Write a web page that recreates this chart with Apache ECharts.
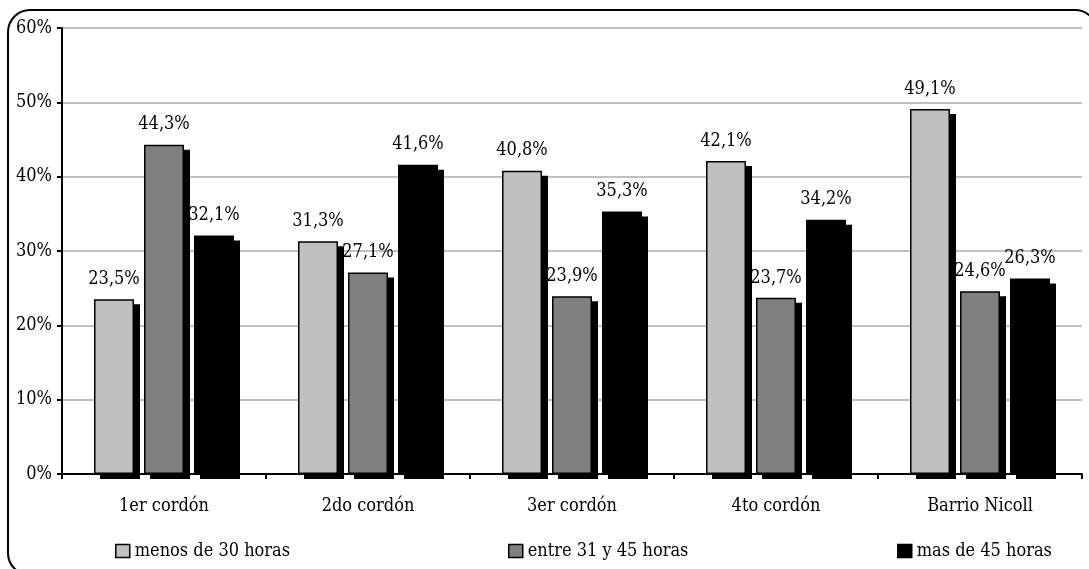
<!DOCTYPE html>
<html>
<head>
<meta charset="utf-8">
<script src="https://cdn.jsdelivr.net/npm/echarts@6/dist/echarts.min.js"></script>
<style>
html,body{margin:0;padding:0;background:#fff;}
#chart{width:1089px;height:569px;}
</style>
</head>
<body>
<div id="chart"></div>
<script>
const categories = ['1er cordón', '2do cordón', '3er cordón', '4to cordón', 'Barrio Nicoll'];
const seriesNames = ['menos de 30 horas', 'entre 31 y 45 horas', 'mas de 45 horas'];
const menos30 = [23.5, 31.3, 40.8, 42.1, 49.1];
const entre31y45 = [44.3, 27.1, 23.9, 23.7, 24.6];
const mas45 = [32.1, 41.6, 35.3, 34.2, 26.3];
const yTicks = [0, 10, 20, 30, 40, 50, 60];

const FONT = "'DejaVu Serif Condensed', 'DejaVu Serif'";
const FS = 18;
const colors = ['#c0c0c0', '#808080', '#000000'];
const dataSets = [menos30, entre31y45, mas45];
const BAR_W = 40, BAR_STEP = 50, SH_X = 6, SH_Y = 5;

const chart = echarts.init(document.getElementById('chart'));

function fmt(v) {
  return v.toFixed(1).replace('.', ',') + '%';
}

const series = dataSets.map((d, i) => ({
  name: seriesNames[i],
  type: 'bar',
  data: d,
  barWidth: BAR_W,
  barGap: '25%',
  z: 3,
  itemStyle: { color: colors[i], borderColor: '#000', borderWidth: 1.5 },
  label: {
    show: true,
    position: 'top',
    distance: 11,
    color: '#000',
    fontFamily: FONT,
    fontSize: FS,
    formatter: p => fmt(p.value)
  },
  emphasis: { disabled: true }
}));

// drop shadows drawn through the same category/value axes
const shadowData = categories.map((c, k) => [k, menos30[k], entre31y45[k], mas45[k]]);
series.push({
  name: 'shadow',
  type: 'custom',
  data: shadowData,
  z: 2,
  silent: true,
  renderItem: function (params, api) {
    const k = api.value(0);
    const zero = api.coord([k, 0]);
    const children = [];
    for (let i = 0; i < 3; i++) {
      const top = api.coord([k, api.value(i + 1)]);
      const x = zero[0] - (BAR_STEP * 3 - (BAR_STEP - BAR_W)) / 2 + i * BAR_STEP;
      children.push({
        type: 'rect',
        shape: { x: x + SH_X, y: top[1] + SH_Y, width: BAR_W, height: zero[1] - top[1] },
        style: { fill: '#000' }
      });
    }
    return { type: 'group', children: children };
  }
});

const legendLefts = [115, 508, 897];
const legends = seriesNames.map((n, i) => ({
  data: [n],
  left: legendLefts[i],
  top: 542,
  padding: 0,
  itemWidth: 14,
  itemHeight: 13,
  selectedMode: false,
  icon: 'rect',
  textStyle: { fontFamily: FONT, fontSize: FS, color: '#000', padding: [0, 0, 0, 0] },
  itemStyle: { color: colors[i], borderColor: '#000', borderWidth: 1.5 }
}));

chart.setOption({
  animation: false,
  backgroundColor: '#fff',
  graphic: [{
    type: 'rect',
    shape: { x: 8, y: 10, width: 1089, height: 565, r: 22 },
    style: { fill: null, stroke: '#000', lineWidth: 2 },
    silent: true,
    z: 100
  }],
  legend: legends,
  grid: { left: 62, right: 7, top: 28, bottom: 95, containLabel: false },
  xAxis: {
    type: 'category',
    data: categories,
    axisLine: { lineStyle: { color: '#000', width: 2 } },
    axisTick: { show: true, length: 5, inside: false, lineStyle: { color: '#000', width: 2 } },
    axisLabel: { fontFamily: FONT, fontSize: FS, color: '#000', margin: 23 },
    z: 1
  },
  yAxis: {
    type: 'value',
    min: 0,
    max: 60,
    interval: 10,
    axisLine: { show: true, lineStyle: { color: '#000', width: 2 } },
    axisTick: { show: true, length: 5, lineStyle: { color: '#000', width: 2 } },
    axisLabel: {
      fontFamily: FONT, fontSize: FS, color: '#000', margin: 10,
      formatter: v => (yTicks.indexOf(v) >= 0 ? v + '%' : '')
    },
    splitLine: { show: true, lineStyle: { color: '#c0c0c0', width: 2 } }
  },
  series: series
});
</script>
</body>
</html>
